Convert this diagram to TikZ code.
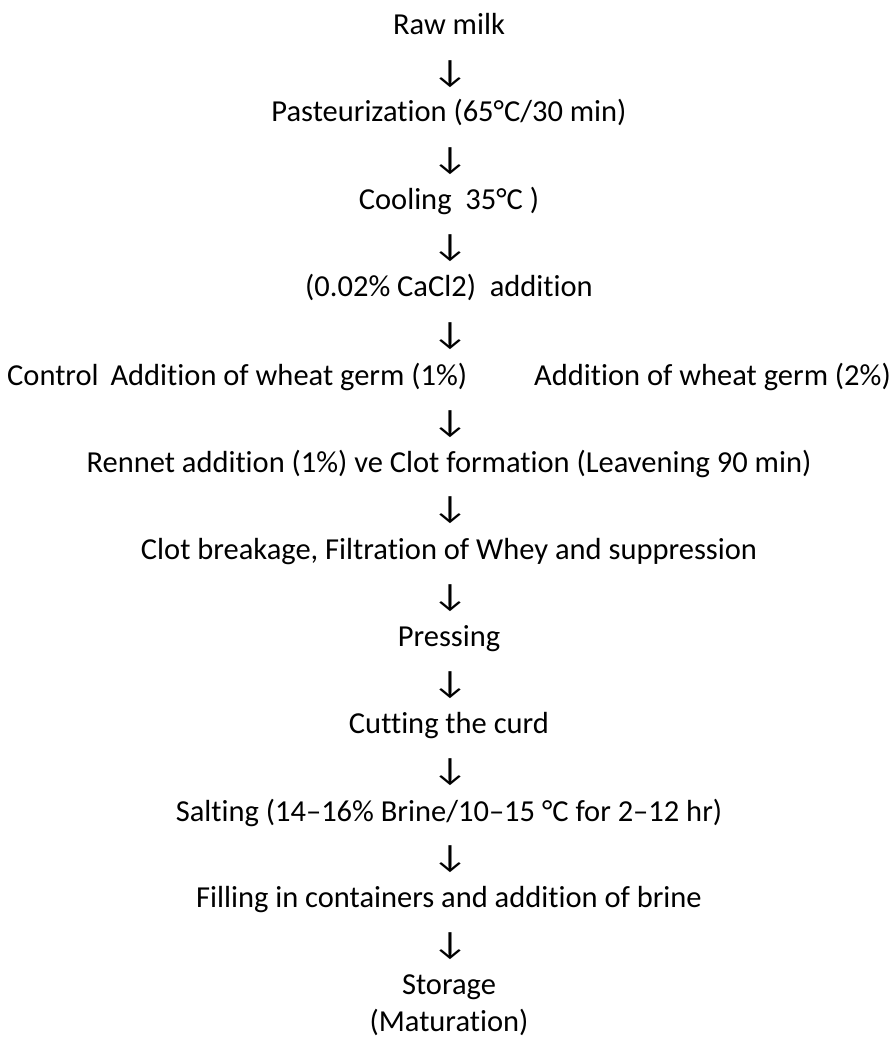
\documentclass[tikz,border=0pt]{standalone}
\usepackage{fontspec}
\setmainfont[Ligatures=NoCommon]{Carlito}
\begin{document}
\begin{tikzpicture}[x=1pt,y=1pt,
  lbl/.style={inner sep=0pt,anchor=base,font=\fontsize{30.5}{33}\selectfont},
  arr/.style={inner sep=0pt,anchor=base,xscale=1.3,yscale=1.06,transform shape,font=\fontsize{30.5}{33}\selectfont}]
\useasboundingbox (0,0) rectangle (894,-1040);
\node[lbl] (n1) at (449,-35) {Raw milk};
\node[arr] (a1) at (450,-83) {↓};
\node[lbl] (n2) at (449,-122) {Pasteurization (65°C/30 min)};
\node[arr] (a2) at (450,-170) {↓};
\node[lbl] (n3) at (449,-210) {Cooling\ \ 35°C )};
\node[arr] (a3) at (450,-257) {↓};
\node[lbl] (n4) at (449,-297) {(0.02\% CaCl2)\ \ addition};
\node[arr] (a4) at (450,-344) {↓};
\node[lbl,anchor=base west] (n5a) at (7,-385) {Control\hspace{5pt} Addition of wheat germ (1\%)};
\node[lbl,anchor=base east] (n5b) at (891,-385) {Addition of wheat germ (2\%)};
\node[arr] (a5) at (450,-432) {↓};
\node[lbl] (n6) at (449,-472) {Rennet addition (1\%) ve Clot formation (Leavening 90 min)};
\node[arr] (a6) at (450,-518) {↓};
\node[lbl] (n7) at (449,-559) {Clot breakage, Filtration of Whey and suppression};
\node[arr] (a7) at (450,-606) {↓};
\node[lbl] (n8) at (449,-646) {Pressing};
\node[arr] (a8) at (450,-693) {↓};
\node[lbl] (n9) at (449,-733) {Cutting the curd};
\node[arr] (a9) at (450,-780) {↓};
\node[lbl] (n10) at (449,-821) {Salting (14–16\% Brine/10–15 °C for 2–12 hr)};
\node[arr] (a10) at (450,-867) {↓};
\node[lbl] (n11) at (449,-907) {Filling in containers and addition of brine};
\node[arr] (a11) at (450,-954) {↓};
\node[lbl] (n12) at (449,-994) {Storage};
\node[lbl] (n13) at (449,-1031) {(Maturation)};
\end{tikzpicture}
\end{document}
